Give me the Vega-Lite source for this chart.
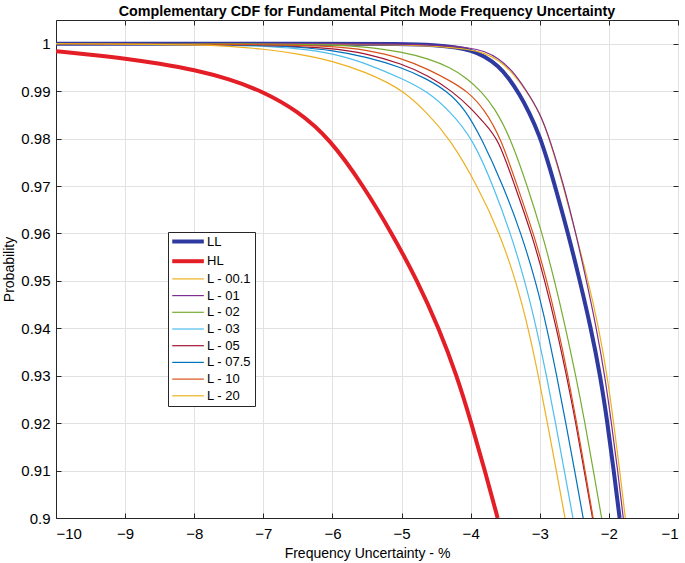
{
  "$schema": "https://vega.github.io/schema/vega-lite/v6.json",
  "width": 622,
  "height": 498,
  "autosize": {"type": "none"},
  "padding": {"left": 56, "top": 20, "right": 7, "bottom": 45},
  "background": "white",
  "title": {"text": "Complementary CDF for Fundamental Pitch Mode Frequency Uncertainty", "font": "Liberation Sans", "fontSize": 14.3, "fontWeight": "bold", "color": "#000000", "anchor": "middle", "offset": 0},
  "config": {
    "view": {"stroke": "#262626", "strokeWidth": 1},
    "axis": {"domainColor": "#262626", "tickColor": "#262626", "labelColor": "#000000", "labelFont": "Liberation Sans", "labelFontSize": 15, "titleFont": "Liberation Sans", "titleFontSize": 14, "titleFontWeight": "normal", "titleColor": "#000000", "gridColor": "#e2e2e2", "gridWidth": 1, "tickSize": -5, "labelPadding": 11}
  },
  "data": {"values": [
    {"s": "LL", "x": -10, "y": 1}, {"s": "LL", "x": -6, "y": 1}, {"s": "LL", "x": -5, "y": 0.99995}, {"s": "LL", "x": -4.5, "y": 0.9997}, {"s": "LL", "x": -4.2, "y": 0.9992}, {"s": "LL", "x": -4, "y": 0.9986}, {"s": "LL", "x": -3.8, "y": 0.9974}, {"s": "LL", "x": -3.6, "y": 0.9953}, {"s": "LL", "x": -3.45, "y": 0.9928}, {"s": "LL", "x": -3.3, "y": 0.9895}, {"s": "LL", "x": -3.15, "y": 0.9855}, {"s": "LL", "x": -3.0, "y": 0.9805}, {"s": "LL", "x": -2.88, "y": 0.975}, {"s": "LL", "x": -2.78, "y": 0.97}, {"s": "LL", "x": -2.59, "y": 0.96}, {"s": "LL", "x": -2.42, "y": 0.95}, {"s": "LL", "x": -2.26, "y": 0.94}, {"s": "LL", "x": -2.125, "y": 0.93}, {"s": "LL", "x": -2.02, "y": 0.92}, {"s": "LL", "x": -1.93, "y": 0.91}, {"s": "LL", "x": -1.845, "y": 0.9},
    {"s": "HL", "x": -10, "y": 0.9984}, {"s": "HL", "x": -9.5, "y": 0.9977}, {"s": "HL", "x": -9, "y": 0.9969}, {"s": "HL", "x": -8.5, "y": 0.9958}, {"s": "HL", "x": -8, "y": 0.9945}, {"s": "HL", "x": -7.5, "y": 0.9926}, {"s": "HL", "x": -7, "y": 0.9899}, {"s": "HL", "x": -6.5, "y": 0.9858}, {"s": "HL", "x": -6.04, "y": 0.98}, {"s": "HL", "x": -5.55, "y": 0.97}, {"s": "HL", "x": -5.14, "y": 0.96}, {"s": "HL", "x": -4.77, "y": 0.95}, {"s": "HL", "x": -4.46, "y": 0.94}, {"s": "HL", "x": -4.2, "y": 0.93}, {"s": "HL", "x": -3.99, "y": 0.92}, {"s": "HL", "x": -3.795, "y": 0.91}, {"s": "HL", "x": -3.61, "y": 0.9},
    {"s": "L - 00.1", "x": -10, "y": 1}, {"s": "L - 00.1", "x": -6, "y": 0.99995}, {"s": "L - 00.1", "x": -5, "y": 0.9998}, {"s": "L - 00.1", "x": -4.5, "y": 0.9995}, {"s": "L - 00.1", "x": -4, "y": 0.9988}, {"s": "L - 00.1", "x": -3.8, "y": 0.998}, {"s": "L - 00.1", "x": -3.6, "y": 0.9966}, {"s": "L - 00.1", "x": -3.4, "y": 0.994}, {"s": "L - 00.1", "x": -3.2, "y": 0.9902}, {"s": "L - 00.1", "x": -3.0, "y": 0.9855}, {"s": "L - 00.1", "x": -2.85, "y": 0.9795}, {"s": "L - 00.1", "x": -2.66, "y": 0.97}, {"s": "L - 00.1", "x": -2.48, "y": 0.96}, {"s": "L - 00.1", "x": -2.3, "y": 0.95}, {"s": "L - 00.1", "x": -2.145, "y": 0.94}, {"s": "L - 00.1", "x": -2.025, "y": 0.93}, {"s": "L - 00.1", "x": -1.93, "y": 0.92}, {"s": "L - 00.1", "x": -1.843, "y": 0.91}, {"s": "L - 00.1", "x": -1.762, "y": 0.9},
    {"s": "L - 01", "x": -10, "y": 1}, {"s": "L - 01", "x": -6, "y": 1}, {"s": "L - 01", "x": -5, "y": 0.99992}, {"s": "L - 01", "x": -4.5, "y": 0.9997}, {"s": "L - 01", "x": -4, "y": 0.9992}, {"s": "L - 01", "x": -3.8, "y": 0.9984}, {"s": "L - 01", "x": -3.6, "y": 0.997}, {"s": "L - 01", "x": -3.4, "y": 0.9944}, {"s": "L - 01", "x": -3.2, "y": 0.9903}, {"s": "L - 01", "x": -3.0, "y": 0.9855}, {"s": "L - 01", "x": -2.85, "y": 0.9797}, {"s": "L - 01", "x": -2.65, "y": 0.97}, {"s": "L - 01", "x": -2.478, "y": 0.96}, {"s": "L - 01", "x": -2.324, "y": 0.95}, {"s": "L - 01", "x": -2.18, "y": 0.94}, {"s": "L - 01", "x": -2.059, "y": 0.93}, {"s": "L - 01", "x": -1.963, "y": 0.92}, {"s": "L - 01", "x": -1.872, "y": 0.91}, {"s": "L - 01", "x": -1.792, "y": 0.9},
    {"s": "L - 02", "x": -10, "y": 1}, {"s": "L - 02", "x": -7, "y": 0.99998}, {"s": "L - 02", "x": -6, "y": 0.9998}, {"s": "L - 02", "x": -5.5, "y": 0.9993}, {"s": "L - 02", "x": -5, "y": 0.9983}, {"s": "L - 02", "x": -4.6, "y": 0.9968}, {"s": "L - 02", "x": -4.3, "y": 0.995}, {"s": "L - 02", "x": -4.05, "y": 0.9927}, {"s": "L - 02", "x": -3.85, "y": 0.99}, {"s": "L - 02", "x": -3.65, "y": 0.9864}, {"s": "L - 02", "x": -3.42, "y": 0.98}, {"s": "L - 02", "x": -3.18, "y": 0.97}, {"s": "L - 02", "x": -2.965, "y": 0.96}, {"s": "L - 02", "x": -2.785, "y": 0.95}, {"s": "L - 02", "x": -2.625, "y": 0.94}, {"s": "L - 02", "x": -2.48, "y": 0.93}, {"s": "L - 02", "x": -2.345, "y": 0.92}, {"s": "L - 02", "x": -2.225, "y": 0.91}, {"s": "L - 02", "x": -2.105, "y": 0.9},
    {"s": "L - 03", "x": -10, "y": 1}, {"s": "L - 03", "x": -8, "y": 0.9999}, {"s": "L - 03", "x": -7, "y": 0.9995}, {"s": "L - 03", "x": -6.5, "y": 0.999}, {"s": "L - 03", "x": -6, "y": 0.998}, {"s": "L - 03", "x": -5.5, "y": 0.9958}, {"s": "L - 03", "x": -5, "y": 0.9927}, {"s": "L - 03", "x": -4.63, "y": 0.99}, {"s": "L - 03", "x": -4.3, "y": 0.9858}, {"s": "L - 03", "x": -3.97, "y": 0.98}, {"s": "L - 03", "x": -3.673, "y": 0.97}, {"s": "L - 03", "x": -3.422, "y": 0.96}, {"s": "L - 03", "x": -3.215, "y": 0.95}, {"s": "L - 03", "x": -3.047, "y": 0.94}, {"s": "L - 03", "x": -2.902, "y": 0.93}, {"s": "L - 03", "x": -2.772, "y": 0.92}, {"s": "L - 03", "x": -2.645, "y": 0.91}, {"s": "L - 03", "x": -2.52, "y": 0.9},
    {"s": "L - 05", "x": -10, "y": 1}, {"s": "L - 05", "x": -7, "y": 0.9998}, {"s": "L - 05", "x": -6, "y": 0.9991}, {"s": "L - 05", "x": -5.5, "y": 0.9979}, {"s": "L - 05", "x": -5, "y": 0.9958}, {"s": "L - 05", "x": -4.6, "y": 0.9932}, {"s": "L - 05", "x": -4.27, "y": 0.99}, {"s": "L - 05", "x": -4.0, "y": 0.9865}, {"s": "L - 05", "x": -3.8, "y": 0.9832}, {"s": "L - 05", "x": -3.6, "y": 0.98}, {"s": "L - 05", "x": -3.36, "y": 0.97}, {"s": "L - 05", "x": -3.119, "y": 0.96}, {"s": "L - 05", "x": -2.926, "y": 0.95}, {"s": "L - 05", "x": -2.758, "y": 0.94}, {"s": "L - 05", "x": -2.613, "y": 0.93}, {"s": "L - 05", "x": -2.478, "y": 0.92}, {"s": "L - 05", "x": -2.358, "y": 0.91}, {"s": "L - 05", "x": -2.237, "y": 0.9},
    {"s": "L - 07.5", "x": -10, "y": 1}, {"s": "L - 07.5", "x": -8, "y": 0.99995}, {"s": "L - 07.5", "x": -7, "y": 0.9997}, {"s": "L - 07.5", "x": -6.5, "y": 0.9993}, {"s": "L - 07.5", "x": -6, "y": 0.9986}, {"s": "L - 07.5", "x": -5.5, "y": 0.9972}, {"s": "L - 07.5", "x": -5, "y": 0.995}, {"s": "L - 07.5", "x": -4.65, "y": 0.9927}, {"s": "L - 07.5", "x": -4.34, "y": 0.99}, {"s": "L - 07.5", "x": -4.08, "y": 0.9862}, {"s": "L - 07.5", "x": -3.84, "y": 0.98}, {"s": "L - 07.5", "x": -3.528, "y": 0.97}, {"s": "L - 07.5", "x": -3.27, "y": 0.96}, {"s": "L - 07.5", "x": -3.06, "y": 0.95}, {"s": "L - 07.5", "x": -2.895, "y": 0.94}, {"s": "L - 07.5", "x": -2.755, "y": 0.93}, {"s": "L - 07.5", "x": -2.623, "y": 0.92}, {"s": "L - 07.5", "x": -2.495, "y": 0.91}, {"s": "L - 07.5", "x": -2.372, "y": 0.9},
    {"s": "L - 10", "x": -10, "y": 1}, {"s": "L - 10", "x": -7, "y": 0.9999}, {"s": "L - 10", "x": -6, "y": 0.9995}, {"s": "L - 10", "x": -5.5, "y": 0.9987}, {"s": "L - 10", "x": -5, "y": 0.997}, {"s": "L - 10", "x": -4.6, "y": 0.9945}, {"s": "L - 10", "x": -4.3, "y": 0.9922}, {"s": "L - 10", "x": -4.05, "y": 0.99}, {"s": "L - 10", "x": -3.8, "y": 0.9862}, {"s": "L - 10", "x": -3.56, "y": 0.98}, {"s": "L - 10", "x": -3.326, "y": 0.97}, {"s": "L - 10", "x": -3.09, "y": 0.96}, {"s": "L - 10", "x": -2.895, "y": 0.95}, {"s": "L - 10", "x": -2.735, "y": 0.94}, {"s": "L - 10", "x": -2.592, "y": 0.93}, {"s": "L - 10", "x": -2.465, "y": 0.92}, {"s": "L - 10", "x": -2.345, "y": 0.91}, {"s": "L - 10", "x": -2.228, "y": 0.9},
    {"s": "L - 20", "x": -10, "y": 1}, {"s": "L - 20", "x": -9, "y": 0.99995}, {"s": "L - 20", "x": -8, "y": 0.9998}, {"s": "L - 20", "x": -7.5, "y": 0.9995}, {"s": "L - 20", "x": -7, "y": 0.9989}, {"s": "L - 20", "x": -6.5, "y": 0.9979}, {"s": "L - 20", "x": -6, "y": 0.9964}, {"s": "L - 20", "x": -5.5, "y": 0.9939}, {"s": "L - 20", "x": -5.2, "y": 0.9918}, {"s": "L - 20", "x": -4.98, "y": 0.99}, {"s": "L - 20", "x": -4.65, "y": 0.9858}, {"s": "L - 20", "x": -4.3, "y": 0.98}, {"s": "L - 20", "x": -3.9, "y": 0.97}, {"s": "L - 20", "x": -3.58, "y": 0.96}, {"s": "L - 20", "x": -3.345, "y": 0.95}, {"s": "L - 20", "x": -3.165, "y": 0.94}, {"s": "L - 20", "x": -3.02, "y": 0.93}, {"s": "L - 20", "x": -2.89, "y": 0.92}, {"s": "L - 20", "x": -2.76, "y": 0.91}, {"s": "L - 20", "x": -2.635, "y": 0.9}
  ]},
  "layer": [
    {
      "mark": {"type": "line", "interpolate": "basis", "clip": true},
      "encoding": {
        "x": {"field": "x", "type": "quantitative", "scale": {"domain": [-10, -1], "nice": false}, "axis": {"orient": "bottom", "values": [-10, -9, -8, -7, -6, -5, -4, -3, -2, -1], "format": "d", "title": "Frequency Uncertainty - %", "labelPadding": 13, "titlePadding": 5}},
        "y": {"field": "y", "type": "quantitative", "scale": {"domain": [0.9, 1.005], "nice": false, "zero": false}, "axis": {"orient": "left", "values": [0.9, 0.91, 0.92, 0.93, 0.94, 0.95, 0.96, 0.97, 0.98, 0.99, 1], "format": "~g", "title": "Probability", "titlePadding": 4}},
        "color": {"field": "s", "type": "nominal", "scale": {"domain": ["LL", "HL", "L - 00.1", "L - 01", "L - 02", "L - 03", "L - 05", "L - 07.5", "L - 10", "L - 20"], "range": ["#2E3A9F", "#E31E26", "#EDB120", "#7E2F8E", "#77AC30", "#4DBEEE", "#A2142F", "#0072BD", "#D95319", "#EDB120"]}, "legend": {"orient": "none", "legendX": 112, "legendY": 212, "title": null, "symbolType": "M-1,0H5", "symbolSize": 111, "labelFont": "Liberation Sans", "labelFontSize": 13, "labelColor": "#000000", "strokeColor": "#262626", "fillColor": "#ffffff", "padding": 3, "rowPadding": 2.7, "labelOffset": 23, "encode": {"symbols": {"update": {"strokeWidth": {"signal": "datum.value === 'LL' || datum.value === 'HL' ? 4 : 1.2"}}}}}},
        "strokeWidth": {"condition": {"test": "datum.s === 'LL' || datum.s === 'HL'", "value": 4}, "value": 1.2}
      }
    },
    {
      "mark": {"type": "point", "opacity": 0},
      "encoding": {
        "x": {"field": "x", "type": "quantitative", "scale": {"domain": [-10, -1], "nice": false}, "axis": {"orient": "top", "values": [-10, -9, -8, -7, -6, -5, -4, -3, -2, -1], "labels": false, "grid": false, "domain": false, "title": null}},
        "y": {"field": "y", "type": "quantitative", "scale": {"domain": [0.9, 1.005], "nice": false, "zero": false}, "axis": {"orient": "right", "values": [0.9, 0.91, 0.92, 0.93, 0.94, 0.95, 0.96, 0.97, 0.98, 0.99, 1], "labels": false, "grid": false, "domain": false, "title": null}}
      }
    }
  ],
  "resolve": {"axis": {"x": "independent", "y": "independent"}}
}
